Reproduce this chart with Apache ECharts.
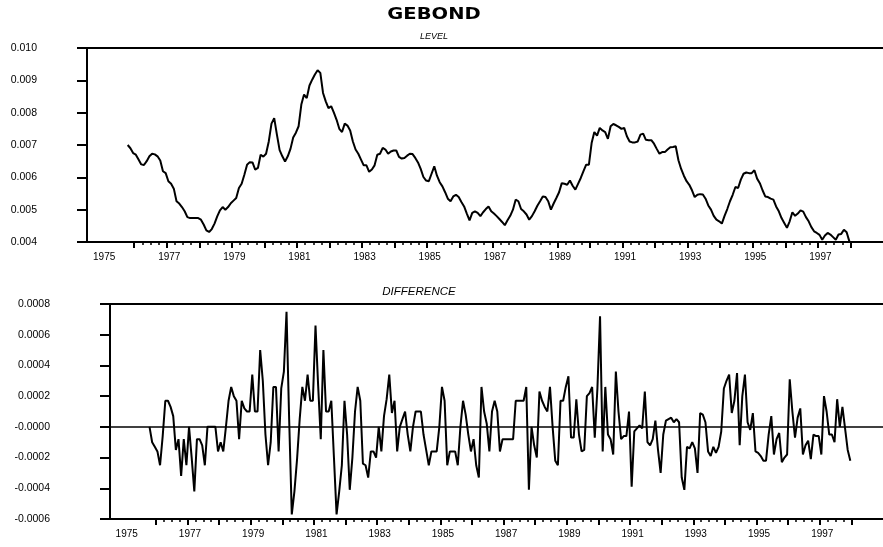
<!DOCTYPE html>
<html>
<head>
<meta charset="utf-8">
<title>GEBOND</title>
<script src="https://cdn.jsdelivr.net/npm/echarts@6.0.0/dist/echarts.min.js"></script>
<style>
	html, body { margin: 0; padding: 0; background: #fff; }
	#charts { width: 883px; height: 547px; }
</style>
</head>
<body>
<div id="charts"></div>
<script>
	// monthly series, Oct 1975 .. Dec 1997 (first month drawn at 1975.8)
	var firstMonth = 1975.8;

	var level = [
		0.00700, 0.00690, 0.00675,
		0.00670, 0.00655, 0.00640, 0.00638, 0.00650, 0.00665, 0.00673, 0.00671, 0.00665, 0.00652, 0.00619, 0.00613,
		0.00588, 0.00580, 0.00565, 0.00526, 0.00519, 0.00508, 0.00495, 0.00477, 0.00474, 0.00474, 0.00474, 0.00474,
		0.00469, 0.00454, 0.00436, 0.00431, 0.00440, 0.00457, 0.00479, 0.00498, 0.00508, 0.00500, 0.00508, 0.00520,
		0.00528, 0.00536, 0.00567, 0.00580, 0.00608, 0.00639, 0.00647, 0.00646, 0.00624, 0.00629, 0.00670, 0.00664,
		0.00673, 0.00711, 0.00766, 0.00783, 0.00732, 0.00684, 0.00665, 0.00649, 0.00665, 0.00688, 0.00723, 0.00738,
		0.00758, 0.00825, 0.00856, 0.00845, 0.00884, 0.00902, 0.00918, 0.00931, 0.00923, 0.00861, 0.00835, 0.00814,
		0.00820, 0.00800, 0.00778, 0.00750, 0.00740, 0.00766, 0.00760, 0.00745, 0.00711, 0.00686, 0.00673, 0.00655,
		0.00637, 0.00637, 0.00617, 0.00624, 0.00637, 0.00670, 0.00673, 0.00691, 0.00686, 0.00673, 0.00680, 0.00683,
		0.00683, 0.00663, 0.00658, 0.00660, 0.00667, 0.00673, 0.00672, 0.00660, 0.00646, 0.00626, 0.00601, 0.00590,
		0.00588, 0.00611, 0.00634, 0.00605, 0.00585, 0.00572, 0.00554, 0.00534, 0.00526, 0.00541, 0.00546, 0.00539,
		0.00524, 0.00510, 0.00488, 0.00467, 0.00490, 0.00495, 0.00490, 0.00480, 0.00492, 0.00502, 0.00510, 0.00495,
		0.00488, 0.00480, 0.00471, 0.00462, 0.00452, 0.00467, 0.00481, 0.00500, 0.00531, 0.00526, 0.00502, 0.00495,
		0.00485, 0.00469, 0.00480, 0.00495, 0.00512, 0.00526, 0.00541, 0.00539, 0.00526, 0.00500, 0.00519, 0.00536,
		0.00554, 0.00582, 0.00580, 0.00577, 0.00590, 0.00574, 0.00562, 0.00580, 0.00598, 0.00619, 0.00639, 0.00639,
		0.00706, 0.00740, 0.00729, 0.00753, 0.00745, 0.00740, 0.00719, 0.00758, 0.00765, 0.00761, 0.00756, 0.00750,
		0.00753, 0.00727, 0.00711, 0.00708, 0.00708, 0.00711, 0.00732, 0.00735, 0.00716, 0.00715, 0.00715, 0.00704,
		0.00688, 0.00673, 0.00678, 0.00678, 0.00686, 0.00693, 0.00694, 0.00696, 0.00653, 0.00626, 0.00605, 0.00588,
		0.00577, 0.00560, 0.00539, 0.00546, 0.00548, 0.00547, 0.00534, 0.00513, 0.00500, 0.00481, 0.00469, 0.00464,
		0.00457, 0.00481, 0.00502, 0.00526, 0.00546, 0.00570, 0.00567, 0.00593, 0.00611, 0.00615, 0.00613, 0.00613,
		0.00622, 0.00596, 0.00582, 0.00560, 0.00541, 0.00539, 0.00534, 0.00531, 0.00510, 0.00495, 0.00474, 0.00459,
		0.00444, 0.00464, 0.00492, 0.00481, 0.00488, 0.00498, 0.00494, 0.00477, 0.00464, 0.00446, 0.00433, 0.00428,
		0.00422, 0.00407, 0.00420, 0.00428, 0.00423, 0.00415, 0.00407, 0.00423, 0.00425, 0.00438, 0.00430, 0.00402
	];

	var difference = [
		0, -0.00010, -0.00013,
		-0.00016, -0.00025, -0.00006, 0.00017, 0.00017, 0.00013, 0.00007, -0.00015, -0.00008, -0.00032, -0.00008, -0.00025,
		0, -0.00020, -0.00042, -0.00008, -0.00008, -0.00012, -0.00025, 0, 0, 0, 0, -0.00016,
		-0.00010, -0.00016, 0, 0.00017, 0.00026, 0.00020, 0.00017, -0.00008, 0.00017, 0.00012, 0.00010, 0.00010,
		0.00034, 0.00010, 0.00010, 0.00050, 0.00030, -0.00005, -0.00025, -0.00010, 0.00026, 0.00026, -0.00016, 0.00025,
		0.00036, 0.00075, 0.00005, -0.00057, -0.00042, -0.00021, 0.00005, 0.00026, 0.00017, 0.00034, 0.00017, 0.00017,
		0.00066, 0.00027, -0.00008, 0.00050, 0.00010, 0.00010, 0.00017, -0.00020, -0.00057, -0.00042, -0.00025, 0.00017,
		-0.00005, -0.00041, -0.00020, 0.00010, 0.00026, 0.00017, -0.00024, -0.00025, -0.00033, -0.00016, -0.00016, -0.00020,
		0, -0.00016, 0.00007, 0.00018, 0.00034, 0.00009, 0.00017, -0.00016, 0, 0.00005, 0.00010, -0.00005,
		-0.00016, 0, 0.00010, 0.00010, 0.00010, -0.00005, -0.00015, -0.00025, -0.00016, -0.00016, -0.00016, 0,
		0.00026, 0.00017, -0.00025, -0.00016, -0.00016, -0.00016, -0.00025, 0, 0.00017, 0.00008, -0.00005, -0.00016,
		-0.00008, -0.00025, -0.00033, 0.00026, 0.00010, 0.00002, -0.00016, 0.00010, 0.00017, 0.00010, -0.00016, -0.00008,
		-0.00008, -0.00008, -0.00008, -0.00008, 0.00017, 0.00017, 0.00017, 0.00017, 0.00026, -0.00041, 0, -0.00012,
		-0.00020, 0.00023, 0.00017, 0.00013, 0.00010, 0.00026, 0, -0.00022, -0.00025, 0.00017, 0.00017, 0.00026,
		0.00033, -0.00007, -0.00007, 0.00018, -0.00005, -0.00016, -0.00015, 0.00020, 0.00022, 0.00026, -0.00007, 0.00025,
		0.00072, -0.00016, 0.00026, -0.00005, -0.00008, -0.00018, 0.00036, 0.00010, -0.00008, -0.00006, -0.00006, 0.00010,
		-0.00039, -0.00003, -0.00001, 0.00001, -0.00001, 0.00023, -0.00010, -0.00012, -0.00008, 0.00004, -0.00015, -0.00030,
		-0.00005, 0.00004, 0.00005, 0.00006, 0.00003, 0.00005, 0.00003, -0.00033, -0.00041, -0.00013, -0.00014, -0.00010,
		-0.00014, -0.00030, 0.00009, 0.00008, 0.00003, -0.00016, -0.00019, -0.00013, -0.00017, -0.00013, -0.00003, 0.00025,
		0.00030, 0.00034, 0.00009, 0.00017, 0.00035, -0.00012, 0.00020, 0.00034, 0.00003, -0.00002, 0.00009, -0.00016,
		-0.00017, -0.00019, -0.00022, -0.00022, -0.00005, 0.00007, -0.00018, -0.00008, -0.00004, -0.00023, -0.00020, -0.00018,
		0.00031, 0.00010, -0.00007, 0.00006, 0.00012, -0.00018, -0.00012, -0.00009, -0.00021, -0.00005, -0.00006, -0.00006,
		-0.00018, 0.00020, 0.00010, -0.00005, -0.00005, -0.00010, 0.00018, 0, 0.00013, -0.00001, -0.00015, -0.00022
	];

	var yearLabels = [1975, 1977, 1979, 1981, 1983, 1985, 1987, 1989, 1991, 1993, 1995, 1997];
	var yearTicks = [1976, 1977, 1978, 1979, 1980, 1981, 1982, 1983, 1984, 1985, 1986,
		1987, 1988, 1989, 1990, 1991, 1992, 1993, 1994, 1995, 1996, 1997, 1998];

	var font = '"Liberation Sans", Arial, sans-serif';
	var quarterTicks = [];
	for (var k = 0; k < 88; k++) {
		if (k % 4) quarterTicks.push(1976 + k / 4);
	}

	var levelData = [];
	var diffData = [];
	for (var i = 0; i < level.length; i++) {
		levelData.push([firstMonth + i / 12, level[i]]);
	}
	for (var j = 0; j < difference.length; j++) {
		diffData.push([firstMonth + j / 12, difference[j]]);
	}

	function xAxes(g) {
		return [{
			type: 'value',
			gridIndex: g,
			min: 1974.55,
			max: 1999,
			position: 'bottom',
			axisLine: { onZero: false, lineStyle: { color: '#000', width: 2 } },
			axisTick: { customValues: yearTicks, length: 6, lineStyle: { color: '#000', width: 2 } },
			axisLabel: {
				customValues: yearLabels,
				margin: 10,
				fontSize: 10,
				fontFamily: font,
				color: '#000',
				padding: [0, 0, 0, 5],
				formatter: function(v) { return String(v); }
			},
			splitLine: { show: false }
		}, {
			type: 'value',
			gridIndex: g,
			min: 1974.55,
			max: 1999,
			position: 'bottom',
			axisLine: { show: false, onZero: false },
			axisTick: { customValues: quarterTicks, length: 3, lineStyle: { color: '#000', width: 1.5 } },
			axisLabel: { show: false },
			splitLine: { show: false }
		}, {
			type: 'value',
			gridIndex: g,
			min: 1974.55,
			max: 1999,
			position: 'top',
			axisLine: { onZero: false, lineStyle: { color: '#000', width: 2 } },
			axisTick: { show: false },
			axisLabel: { show: false },
			splitLine: { show: false }
		}];
	}

	var chart = echarts.init(document.getElementById('charts'));
	var option = {
		animation: false,
		backgroundColor: '#fff',
		grid: [
			{ left: 87, right: 0, top: 48, height: 194 },
			{ left: 110, right: 0, top: 304, height: 215 }
		],
		xAxis: xAxes(0).concat(xAxes(1)),
		yAxis: [{
			type: 'value',
			gridIndex: 0,
			min: 0.004,
			max: 0.010,
			interval: 0.001,
			axisLine: { show: true, lineStyle: { color: '#000', width: 2 } },
			axisTick: { show: true, length: 10, lineStyle: { color: '#000', width: 2 } },
			axisLabel: {
				margin: 50,
				fontSize: 10.5,
				fontFamily: font,
				color: '#000',
				formatter: function(v) { return v.toFixed(3); }
			},
			splitLine: { show: false }
		}, {
			type: 'value',
			gridIndex: 1,
			min: -0.0006,
			max: 0.0008,
			interval: 0.0002,
			axisLine: { show: true, lineStyle: { color: '#000', width: 2 } },
			axisTick: { show: true, length: 10, lineStyle: { color: '#000', width: 2 } },
			axisLabel: {
				margin: 60,
				fontSize: 10.5,
				fontFamily: font,
				color: '#000',
				formatter: function(v) {
					var s = v.toFixed(4);
					return (s === '0.0000' || s === '-0.0000') ? '-0.0000' : s;
				}
			},
			splitLine: { show: false }
		}],
		graphic: [{
			type: 'text',
			x: 434,
			y: 15,
			scaleX: 1.3,
			style: {
				text: 'GEBOND',
				font: 'bold 15px "DejaVu Sans", sans-serif',
				fill: '#000',
				textAlign: 'center',
				textVerticalAlign: 'middle'
			}
		}, {
			type: 'text',
			x: 434,
			y: 36,
			style: {
				text: 'LEVEL',
				font: 'italic 9px "Liberation Sans", Arial, sans-serif',
				fill: '#000',
				textAlign: 'center',
				textVerticalAlign: 'middle'
			}
		}, {
			type: 'text',
			x: 419,
			y: 292,
			style: {
				text: 'DIFFERENCE',
				font: 'italic 11.5px "Liberation Sans", Arial, sans-serif',
				fill: '#000',
				textAlign: 'center',
				textVerticalAlign: 'middle'
			}
		}],
		series: [{
			type: 'line',
			xAxisIndex: 0,
			yAxisIndex: 0,
			symbol: 'none',
			lineStyle: { color: '#000', width: 2 },
			data: levelData
		}, {
			type: 'line',
			xAxisIndex: 3,
			yAxisIndex: 1,
			symbol: 'none',
			lineStyle: { color: '#000', width: 2 },
			data: diffData,
			markLine: {
				silent: true,
				symbol: 'none',
				label: { show: false },
				lineStyle: { color: '#000', width: 1.5, type: 'solid' },
				data: [{ yAxis: 0 }]
			}
		}]
	};
	chart.setOption(option);
</script>
</body>
</html>
